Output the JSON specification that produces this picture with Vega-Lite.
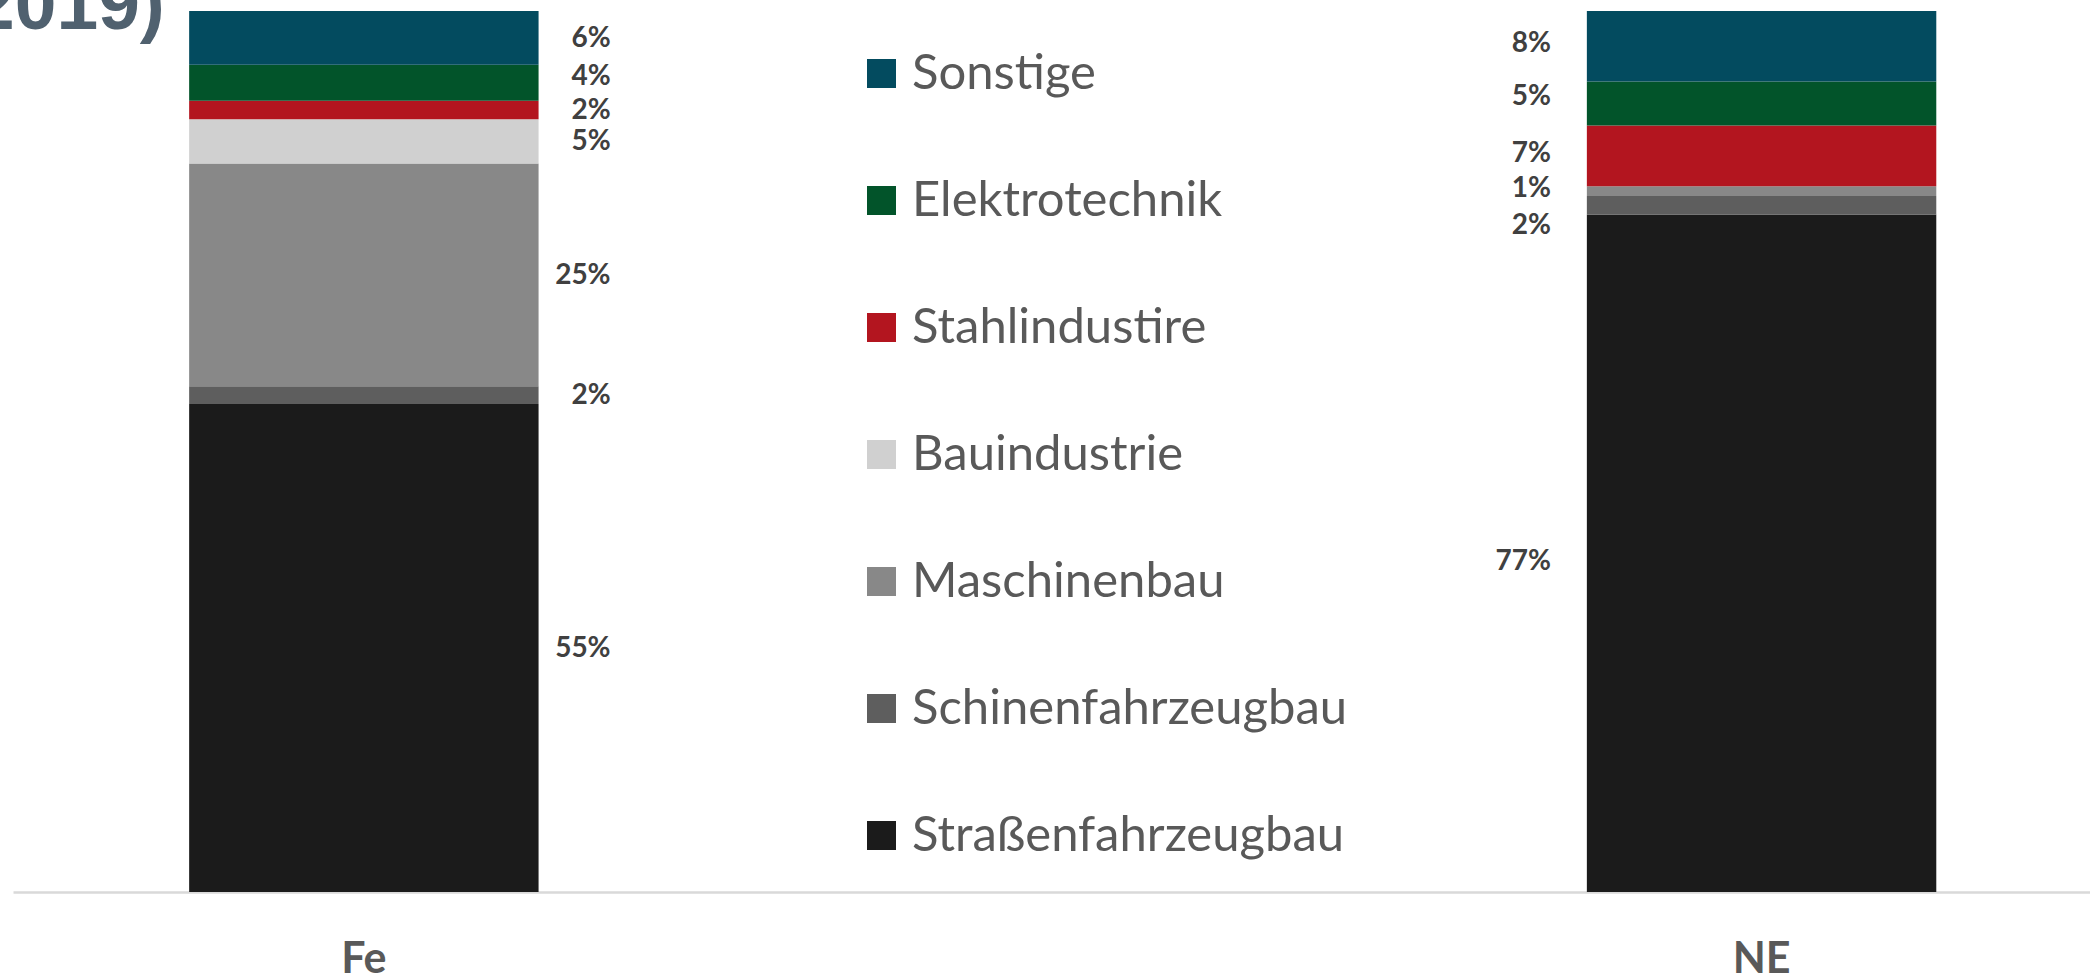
{
  "$schema": "https://vega.github.io/schema/vega-lite/v6.json",
  "width": 2077,
  "height": 881,
  "autosize": {"type": "none"},
  "padding": {"left": 13, "top": 11, "right": 0, "bottom": 88},
  "background": "white",
  "title": {
    "text": "2019)",
    "anchor": "start",
    "frame": "group",
    "orient": "top",
    "baseline": "top",
    "offset": -34,
    "dx": -40,
    "font": "Liberation Sans",
    "fontSize": 75,
    "fontWeight": "bold",
    "color": "#50616f"
  },
  "data": {
    "values": [
      {"metal": "Fe", "sector": "Straßenfahrzeugbau", "rank": 1, "value": 0.554},
      {"metal": "Fe", "sector": "Schinenfahrzeugbau", "rank": 2, "value": 0.02},
      {"metal": "Fe", "sector": "Maschinenbau", "rank": 3, "value": 0.253},
      {"metal": "Fe", "sector": "Bauindustrie", "rank": 4, "value": 0.05},
      {"metal": "Fe", "sector": "Stahlindustire", "rank": 5, "value": 0.021},
      {"metal": "Fe", "sector": "Elektrotechnik", "rank": 6, "value": 0.041},
      {"metal": "Fe", "sector": "Sonstige", "rank": 7, "value": 0.061},
      {"metal": "NE", "sector": "Straßenfahrzeugbau", "rank": 1, "value": 0.769},
      {"metal": "NE", "sector": "Schinenfahrzeugbau", "rank": 2, "value": 0.021},
      {"metal": "NE", "sector": "Maschinenbau", "rank": 3, "value": 0.011},
      {"metal": "NE", "sector": "Stahlindustire", "rank": 5, "value": 0.069},
      {"metal": "NE", "sector": "Elektrotechnik", "rank": 6, "value": 0.05},
      {"metal": "NE", "sector": "Sonstige", "rank": 7, "value": 0.08}
    ]
  },
  "transform": [
    {"stack": "value", "groupby": ["metal"], "sort": [{"field": "rank", "order": "ascending"}], "as": ["v0", "v1"]},
    {"calculate": "(datum.v0 + datum.v1) / 2", "as": "mid"}
  ],
  "encoding": {
    "x": {
      "field": "metal",
      "type": "nominal",
      "sort": ["Fe", "NE"],
      "scale": {"paddingInner": 0.75, "paddingOuter": 0.118, "align": 0.534},
      "axis": {
        "title": null,
        "labelAngle": 0,
        "ticks": false,
        "domainColor": "#d9d9d9",
        "domainWidth": 2.5,
        "labelFont": "Lato",
        "labelFontSize": 43,
        "labelFontWeight": "bold",
        "labelColor": "#595959",
        "labelPadding": 46
      }
    }
  },
  "layer": [
    {
      "mark": {"type": "bar"},
      "encoding": {
        "y": {"field": "v1", "type": "quantitative", "scale": {"domain": [0, 1], "nice": false}, "axis": null},
        "y2": {"field": "v0"},
        "color": {
          "field": "sector",
          "type": "nominal",
          "scale": {
            "domain": ["Sonstige", "Elektrotechnik", "Stahlindustire", "Bauindustrie", "Maschinenbau", "Schinenfahrzeugbau", "Straßenfahrzeugbau"],
            "range": ["#034b5f", "#02542a", "#b3151f", "#d0d0d0", "#888888", "#5e5e5e", "#1b1b1b"]
          },
          "legend": {
            "title": null,
            "orient": "none",
            "legendX": 844,
            "legendY": 38,
            "padding": 0,
            "symbolType": "square",
            "symbolSize": 841,
            "symbolStrokeWidth": 0,
            "labelFont": "Lato",
            "labelFontSize": 49,
            "labelColor": "#595959",
            "labelOffset": 6,
            "rowPadding": 77,
            "labelLimit": 1000
          }
        }
      }
    },
    {
      "transform": [{"filter": "datum.metal === 'Fe' && datum.sector !== 'Elektrotechnik'"}],
      "mark": {"type": "text", "align": "right", "baseline": "middle", "dx": 72, "dy": 1, "font": "Lato", "fontSize": 28, "fontWeight": "bold", "color": "#404040"},
      "encoding": {
        "x": {"field": "metal", "type": "nominal", "bandPosition": 1},
        "y": {"field": "mid", "type": "quantitative"},
        "text": {"field": "value", "type": "quantitative", "format": ".0%"}
      }
    },
    {
      "transform": [{"filter": "datum.metal === 'Fe' && datum.sector === 'Elektrotechnik'"}],
      "mark": {"type": "text", "align": "right", "baseline": "middle", "dx": 72, "dy": -6, "font": "Lato", "fontSize": 28, "fontWeight": "bold", "color": "#404040"},
      "encoding": {
        "x": {"field": "metal", "type": "nominal", "bandPosition": 1},
        "y": {"field": "mid", "type": "quantitative"},
        "text": {"field": "value", "type": "quantitative", "format": ".0%"}
      }
    },
    {
      "transform": [{"filter": "datum.metal === 'NE' && datum.sector !== 'Elektrotechnik' && datum.sector !== 'Schinenfahrzeugbau' && datum.sector !== 'Straßenfahrzeugbau'"}],
      "mark": {"type": "text", "align": "right", "baseline": "middle", "dx": -36, "dy": -2, "font": "Lato", "fontSize": 28, "fontWeight": "bold", "color": "#404040"},
      "encoding": {
        "x": {"field": "metal", "type": "nominal", "bandPosition": 0},
        "y": {"field": "mid", "type": "quantitative"},
        "text": {"field": "value", "type": "quantitative", "format": ".0%"}
      }
    },
    {
      "transform": [{"filter": "datum.metal === 'NE' && datum.sector === 'Elektrotechnik'"}],
      "mark": {"type": "text", "align": "right", "baseline": "middle", "dx": -36, "dy": -7, "font": "Lato", "fontSize": 28, "fontWeight": "bold", "color": "#404040"},
      "encoding": {
        "x": {"field": "metal", "type": "nominal", "bandPosition": 0},
        "y": {"field": "mid", "type": "quantitative"},
        "text": {"field": "value", "type": "quantitative", "format": ".0%"}
      }
    },
    {
      "transform": [{"filter": "datum.metal === 'NE' && datum.sector === 'Schinenfahrzeugbau'"}],
      "mark": {"type": "text", "align": "right", "baseline": "middle", "dx": -36, "dy": 21, "font": "Lato", "fontSize": 28, "fontWeight": "bold", "color": "#404040"},
      "encoding": {
        "x": {"field": "metal", "type": "nominal", "bandPosition": 0},
        "y": {"field": "mid", "type": "quantitative"},
        "text": {"field": "value", "type": "quantitative", "format": ".0%"}
      }
    },
    {
      "transform": [{"filter": "datum.metal === 'NE' && datum.sector === 'Straßenfahrzeugbau'"}],
      "mark": {"type": "text", "align": "right", "baseline": "middle", "dx": -36, "dy": 9, "font": "Lato", "fontSize": 28, "fontWeight": "bold", "color": "#404040"},
      "encoding": {
        "x": {"field": "metal", "type": "nominal", "bandPosition": 0},
        "y": {"field": "mid", "type": "quantitative"},
        "text": {"field": "value", "type": "quantitative", "format": ".0%"}
      }
    }
  ],
  "config": {"view": {"stroke": null}}
}
